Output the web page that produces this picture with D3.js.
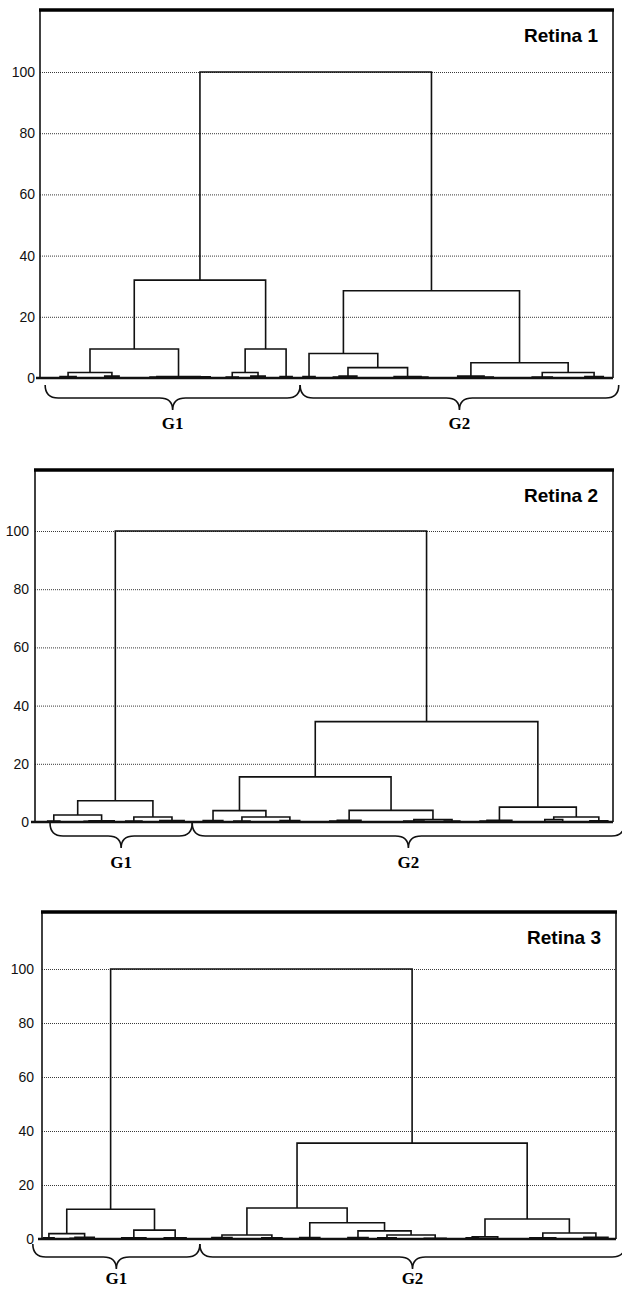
<!DOCTYPE html>
<html>
<head>
<meta charset="utf-8">
<script src="https://cdn.jsdelivr.net/npm/d3@7"></script>
<style>
  body { margin: 0; background: #fff; }
  svg { display: block; }
</style>
</head>
<body>
<svg id="chart" width="622" height="1290"></svg>
<script>
"use strict";

// y axis ticks (linkage distance, rescaled 0-100)
const yTicks = [0, 20, 40, 60, 80, 100];
const panelNames = ["Retina 1", "Retina 2", "Retina 3"];
const groupNames = ["G1", "G2"];

// dendrograms: a node is [height, left, right], a leaf is its place on the ordering axis (0-100)
const tree1 =
  [100,
    [32,
      [9.5,
        [1.8, [0.5, 3.5, 6.3], [0.6, 11.3, 13.8]],
        [0.5, [0.3, 19.2, 21.6], [0.4, 26.2, 29.7]]],
      [9.5,
        [1.8, [0.3, 32.5, 34.6], [0.6, 36.8, 39.3]],
        [0.5, 41.9, 44.0]]],
    [28.5,
      [8,
        [0.5, 45.9, 48.0],
        [3.4, [0.6, [0.3, 51.2, 53.2], 55.3], [0.5, 61.8, [0.3, 65.3, 67.7]]]],
      [5,
        [0.6, 72.9, [0.3, 75.9, 79.1]],
        [1.8, [0.3, 85.9, 89.4], [0.5, 95.1, 98.3]]]]];

const tree2 =
  [100,
    [7.3,
      [2.4, [0.3, 2.2, 4.3], [0.4, [0.2, 8.5, 10.2], 13.7]],
      [1.7, [0.3, 15.7, 18.5], [0.5, 21.6, 25.8]]],
    [34.5,
      [15.5,
        [3.9,
          [0.5, 29.1, 32.5],
          [1.7, [0.3, 34.4, 37.2], [0.5, 42.4, 45.8]]],
        [4,
          [0.6, [0.3, 51.0, 53.6], 56.4],
          [0.8, [0.3, 63.8, 67.3], [0.3, 70.8, 73.5]]]],
      [5.1,
        [0.6, [0.3, 77.0, 79.4], 82.5],
        [1.7, [0.8, 88.2, 91.3], [0.4, 96.0, 99.1]]]]];

const tree3 =
  [100,
    [11,
      [2, [0.4, 0.3, 2.1], [0.6, [0.3, 4.9, 6.6], 9.1]],
      [3.3, [0.4, 13.9, 18.1], [0.4, 21.3, 25.1]]],
    [35.5,
      [11.5,
        [1.5, [0.5, 29.6, 33.1], [0.4, 38.3, 41.8]],
        [6,
          [0.5, 44.9, 48.4],
          [3,
            [0.5, 53.3, 56.8],
            [1.5, [0.4, 58.5, 61.7], [0.3, 66.6, 70.4]]]]],
      [7.4,
        [0.8, [0.4, 73.9, 76.0], 79.4],
        [2.2, [0.4, 85.0, 89.5], [0.6, 94.4, 98.6]]]]];

// extent of the G1 / G2 groups on the ordering axis
const groups1 = [[0.9, 45.4], [45.4, 101]];
const groups2 = [[2.6, 27.2], [27.2, 102]];
const groups3 = [[-1.6, 27.5], [27.5, 101.6]];

// page layout of the three panels
const panels = [
  { name: panelNames[0], tree: tree1, groups: groups1, left: 40, right: 613, top: 10, base: 378, y100: 72, brace: 7, labelGap: 5, groupDy: 19 },
  { name: panelNames[1], tree: tree2, groups: groups2, left: 35, right: 613, top: 470, base: 822, y100: 531, brace: 1, labelGap: 6, groupDy: 20 },
  { name: panelNames[2], tree: tree3, groups: groups3, left: 42, right: 616, top: 912, base: 1239, y100: 969, brace: 5, labelGap: 8, groupDy: 15 }
];

const svg = d3.select("#chart");

panels.forEach(p => {
  const x = d3.scaleLinear().domain([0, 100]).range([p.left, p.right]);
  const y = d3.scaleLinear().domain([0, 100]).range([p.base, p.y100]);
  const g = svg.append("g");

  // dotted grid + tick labels
  const axis = g.append("g")
    .attr("transform", `translate(${p.left},0)`)
    .call(d3.axisLeft(y).tickValues(yTicks).tickSize(-(p.right - p.left)).tickPadding(p.labelGap).tickFormat(d3.format("d")));
  axis.select(".domain").remove();
  axis.selectAll(".tick line")
    .attr("stroke", "#222")
    .attr("stroke-width", 0.9)
    .attr("stroke-dasharray", "1,1");
  axis.selectAll(".tick text")
    .style("font-family", "'Liberation Sans', Arial, sans-serif")
    .style("font-size", "14px")
    .attr("fill", "#111");

  // frame
  g.append("line").attr("x1", p.left).attr("x2", p.left).attr("y1", p.top).attr("y2", p.base)
    .attr("stroke", "#111").attr("stroke-width", 1.6);
  g.append("line").attr("x1", p.right).attr("x2", p.right).attr("y1", p.top).attr("y2", p.base)
    .attr("stroke", "#111").attr("stroke-width", 1.6);
  g.append("line").attr("x1", p.left - 1).attr("x2", p.right + 1).attr("y1", p.top).attr("y2", p.top)
    .attr("stroke", "#000").attr("stroke-width", 3.5);

  g.append("text")
    .attr("x", p.right - 15)
    .attr("y", p.top + 32)
    .attr("text-anchor", "end")
    .style("font-family", "'Liberation Sans', Arial, sans-serif")
    .style("font-weight", "bold")
    .style("font-size", "19px")
    .text(p.name);

  // dendrogram links
  const segs = [];
  function layout(node) {
    if (typeof node === "number") return { x: node, h: 0 };
    const a = layout(node[1]);
    const b = layout(node[2]);
    segs.push([[a.x, a.h], [a.x, node[0]], [b.x, node[0]], [b.x, b.h]]);
    return { x: (a.x + b.x) / 2, h: node[0] };
  }
  layout(p.tree);

  const line = d3.line().x(d => x(d[0])).y(d => y(d[1]));
  g.append("g").selectAll("path")
    .data(segs)
    .join("path")
    .attr("d", line)
    .attr("fill", "none")
    .attr("stroke", "#111")
    .attr("stroke-width", 1.6);

  // baseline
  g.append("line").attr("x1", p.left - 4).attr("x2", p.right).attr("y1", y(0)).attr("y2", y(0))
    .attr("stroke", "#111").attr("stroke-width", 2.5);

  // braces under the two groups
  const top = p.base + p.brace, mid = top + 13, tip = top + 25, r = 13;
  p.groups.forEach((gr, i) => {
    const x0 = x(gr[0]), x1 = x(gr[1]), xm = (x0 + x1) / 2;
    const path = d3.path();
    path.moveTo(x0, top);
    path.quadraticCurveTo(x0, mid, x0 + r, mid);
    path.lineTo(xm - r, mid);
    path.quadraticCurveTo(xm, mid, xm, tip);
    path.quadraticCurveTo(xm, mid, xm + r, mid);
    path.lineTo(x1 - r, mid);
    path.quadraticCurveTo(x1, mid, x1, top);
    g.append("path")
      .attr("d", path.toString())
      .attr("fill", "none")
      .attr("stroke", "#111")
      .attr("stroke-width", 1.6);
    g.append("text")
      .attr("x", xm)
      .attr("y", tip + p.groupDy)
      .attr("text-anchor", "middle")
      .style("font-family", "'Liberation Serif', 'Times New Roman', serif")
      .style("font-weight", "bold")
      .style("font-size", "17px")
      .text(groupNames[i]);
  });
});
</script>
</body>
</html>
